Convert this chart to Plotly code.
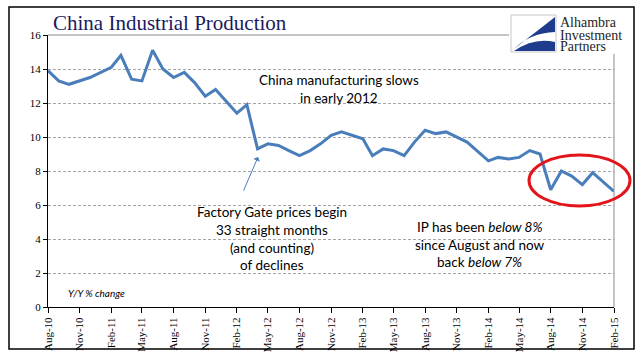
import plotly.graph_objects as go

# ---- data ----
months = ["2010-08-01", "2010-09-01", "2010-10-01", "2010-11-01", "2010-12-01",
          "2011-02-01", "2011-03-01", "2011-04-01", "2011-05-01", "2011-06-01", "2011-07-01",
          "2011-08-01", "2011-09-01", "2011-10-01", "2011-11-01", "2011-12-01",
          "2012-02-01", "2012-03-01", "2012-04-01", "2012-05-01", "2012-06-01", "2012-07-01",
          "2012-08-01", "2012-09-01", "2012-10-01", "2012-11-01", "2012-12-01",
          "2013-02-01", "2013-03-01", "2013-04-01", "2013-05-01", "2013-06-01", "2013-07-01",
          "2013-08-01", "2013-09-01", "2013-10-01", "2013-11-01", "2013-12-01",
          "2014-02-01", "2014-03-01", "2014-04-01", "2014-05-01", "2014-06-01", "2014-07-01",
          "2014-08-01", "2014-09-01", "2014-10-01", "2014-11-01", "2014-12-01",
          "2015-02-01"]
ip_yoy = [13.9, 13.3, 13.1, 13.3, 13.5,
          14.1, 14.8, 13.4, 13.3, 15.1, 14.0, 13.5, 13.8, 13.2, 12.4, 12.8,
          11.4, 11.9, 9.3, 9.6, 9.5, 9.2, 8.9, 9.2, 9.6, 10.1, 10.3,
          9.9, 8.9, 9.3, 9.2, 8.9, 9.7, 10.4, 10.2, 10.3, 10.0, 9.7,
          8.6, 8.8, 8.7, 8.8, 9.2, 9.0, 6.9, 8.0, 7.7, 7.2, 7.9,
          6.8]

tick_dates = ["2010-08-01", "2010-11-01", "2011-02-01", "2011-05-01", "2011-08-01",
              "2011-11-01", "2012-02-01", "2012-05-01", "2012-08-01", "2012-11-01",
              "2013-02-01", "2013-05-01", "2013-08-01", "2013-11-01", "2014-02-01",
              "2014-05-01", "2014-08-01", "2014-11-01", "2015-02-01"]
tick_labels = ["Aug-10", "Nov-10", "Feb-11", "May-11", "Aug-11", "Nov-11", "Feb-12",
               "May-12", "Aug-12", "Nov-12", "Feb-13", "May-13", "Aug-13", "Nov-13",
               "Feb-14", "May-14", "Aug-14", "Nov-14", "Feb-15"]
y_ticks = [0, 2, 4, 6, 8, 10, 12, 14, 16]

# ---- layout geometry (pixels) ----
W, H = 641, 361
L, R, T, B = 48, 27, 35, 54
PW, PH = W - L - R, H - T - B


def px(x):
    return (x - L) / PW


def py(y):
    return (H - B - y) / PH


fig = go.Figure()
fig.add_trace(go.Scatter(x=months, y=ip_yoy, mode="lines",
                         line=dict(color="#4A7EBB", width=3), hoverinfo="skip"))

serif = "Liberation Serif, Times New Roman, serif"
sans = "Lato, Carlito, Calibri, sans-serif"

fig.update_layout(
    width=W, height=H, margin=dict(l=L, r=R, t=T, b=B, autoexpand=False),
    paper_bgcolor="white", plot_bgcolor="white", showlegend=False,
    xaxis=dict(type="date", range=["2010-08-01", "2015-02-01"], automargin=False,
               tickvals=tick_dates, ticktext=tick_labels, tickangle=-90,
               ticks="outside", ticklen=5, tickcolor="black",
               showline=True, linecolor="black", linewidth=1, showgrid=False,
               tickfont=dict(family=serif, size=11, color="black")),
    yaxis=dict(range=[0, 16], tickvals=y_ticks, ticks="outside", ticklen=4,
               automargin=False,
               tickcolor="black", showline=True, linecolor="black", linewidth=1,
               showgrid=True, gridcolor="#A6A6A6", griddash="3px,2px", gridwidth=1,
               zeroline=False,
               tickfont=dict(family=serif, size=11, color="black")),
)

shapes = []
# outer frame
shapes.append(dict(type="rect", xref="paper", yref="paper",
                   x0=px(9), x1=px(634), y0=py(349), y1=py(7),
                   line=dict(color="black", width=1.5), layer="above"))
# plot area top/right border
shapes.append(dict(type="line", xref="paper", yref="paper", x0=0, x1=1, y0=1, y1=1,
                   line=dict(color="#8C8C8C", width=1), layer="above"))
shapes.append(dict(type="line", xref="paper", yref="paper", x0=1, x1=1, y0=0, y1=1,
                   line=dict(color="#8C8C8C", width=1), layer="above"))
# logo background
shapes.append(dict(type="rect", xref="paper", yref="paper",
                   x0=px(509), x1=px(617), y0=py(54), y1=py(13),
                   fillcolor="white", line=dict(width=0), layer="above"))
shapes.append(dict(type="rect", xref="paper", yref="paper",
                   x0=px(511), x1=px(556), y0=py(52), y1=py(15),
                   fillcolor="white", line=dict(color="#C8C8C8", width=1), layer="above"))


def path(points, close=True):
    s = ""
    for p in points:
        cmd = p[0]
        coords = p[1:]
        s += cmd + " " + " ".join(
            f"{px(coords[j]):.4f},{py(coords[j+1]):.4f}" for j in range(0, len(coords), 2)) + " "
    return s + ("Z" if close else "")


shapes.append(dict(type="path", xref="paper", yref="paper",
                   path=path([("M", 555, 17), ("L", 514, 49), ("Q", 530, 33, 555, 32)]),
                   fillcolor="#1F3C8C", line=dict(width=0), layer="above"))
shapes.append(dict(type="path", xref="paper", yref="paper",
                   path=path([("M", 514, 51), ("Q", 534, 37, 555, 42), ("L", 555, 51)]),
                   fillcolor="#1F3C8C", line=dict(width=0), layer="above"))
# red ellipse
shapes.append(dict(type="circle", xref="paper", yref="paper",
                   x0=px(529), x1=px(630), y0=py(206), y1=py(155),
                   line=dict(color="#E3151B", width=3), layer="above"))
fig.update_layout(shapes=shapes)

ann = []
ann.append(dict(text="China Industrial Production", xref="paper", yref="paper",
                x=px(51), y=py(23), xanchor="left", yanchor="middle", showarrow=False,
                font=dict(family=serif, size=21, color="#1A1A5E")))
for txt, yy in [("Alhambra", 23), ("Investment", 35), ("Partners", 47)]:
    ann.append(dict(text=txt, xref="paper", yref="paper", x=px(558), y=py(yy),
                    xanchor="left", yanchor="middle", showarrow=False,
                    font=dict(family=serif, size=14, color="#1E1E1E")))
for txt, yy in [("China manufacturing slows", 80.5), ("in early 2012", 98.5)]:
    ann.append(dict(text=txt, xref="paper", yref="paper", x=px(339), y=py(yy),
                    xanchor="center", yanchor="middle", showarrow=False,
                    font=dict(family=sans, size=13.5, color="black")))
for txt, yy in [("Factory Gate prices begin", 211.7), ("33 straight months", 229.5),
                ("(and counting)", 247.5), ("of declines", 265)]:
    ann.append(dict(text=txt, xref="paper", yref="paper", x=px(271.5), y=py(yy),
                    xanchor="center", yanchor="middle", showarrow=False,
                    font=dict(family=sans, size=13.5, color="black")))
for txt, yy in [("IP has been <i>below 8%</i>", 226.7), ("since August and now", 244.5),
                ("back <i>below 7%</i>", 262.3)]:
    ann.append(dict(text=txt, xref="paper", yref="paper", x=px(479.5), y=py(yy),
                    xanchor="center", yanchor="middle", showarrow=False,
                    font=dict(family=sans, size=13.5, color="black")))
ann.append(dict(text="<i>Y/Y % change</i>", xref="paper", yref="paper", x=px(66), y=py(293),
                xanchor="left", yanchor="middle", showarrow=False,
                font=dict(family=sans, size=10, color="black")))
# arrow to the factory gate drop
ann.append(dict(text="", xref="paper", yref="paper", x=px(258), y=py(157),
                ax=-15, ay=35, showarrow=True, arrowhead=1, arrowsize=1.2,
                arrowwidth=1, arrowcolor="#4A7EBB"))
fig.update_layout(annotations=ann)

fig.write_html("out.html", config={"displayModeBar": False},
               post_script="document.body.style.margin='0';document.body.style.padding='0';")
